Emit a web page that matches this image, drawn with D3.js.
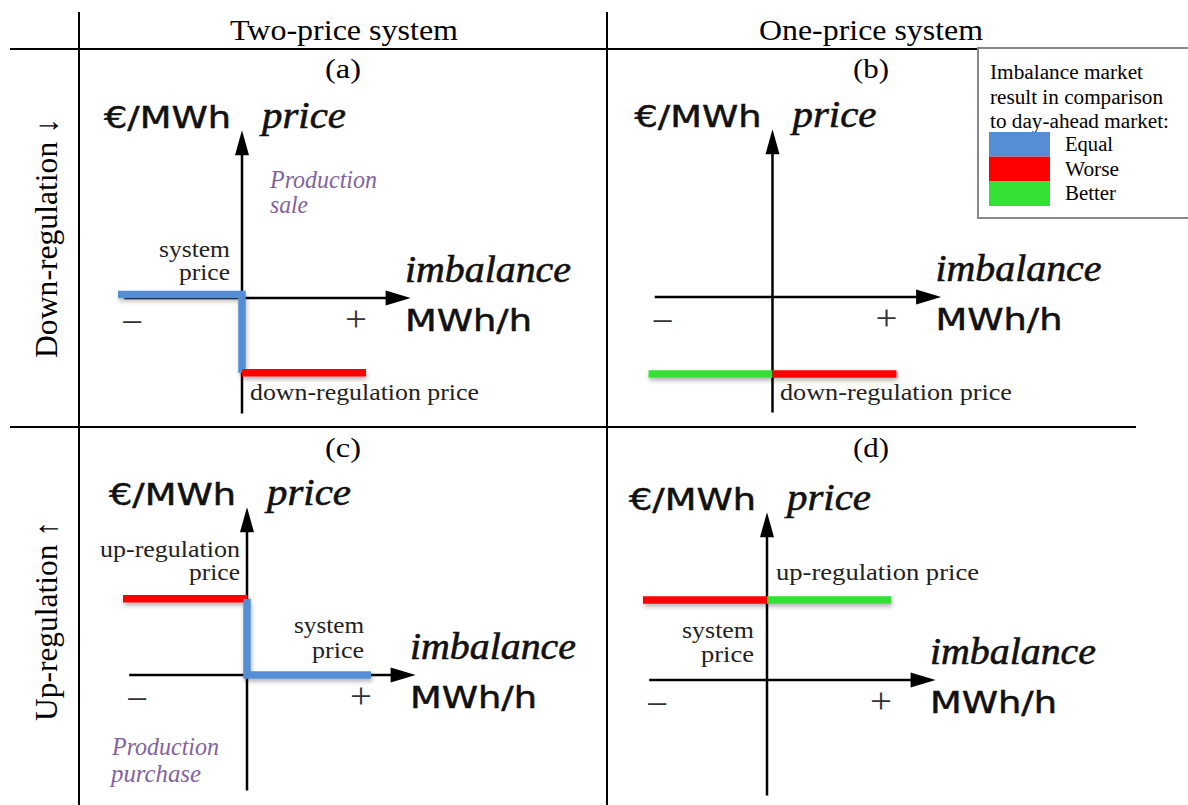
<!DOCTYPE html>
<html>
<head>
<meta charset="utf-8">
<script src="https://cdn.jsdelivr.net/npm/d3@7/dist/d3.min.js"></script>
<style>
  html, body { margin: 0; padding: 0; background: #fff; }
  svg { display: block; }
</style>
</head>
<body>
<svg id="chart" width="1188" height="805"></svg>
<script>
// ---------------- DATA ----------------
const columnTitles = ["Two-price system", "One-price system"];
const rowTitles = ["Down-regulation \u2193", "Up-regulation \u2191"];
const panelIds = ["(a)", "(b)", "(c)", "(d)"];
const categories = ["Equal", "Worse", "Better"];
const legendTitle = ["Imbalance market", "result in comparison", "to day-ahead market:"];
const yAxisLabels = ["\u20AC/MWh", "price"];
const xAxisLabels = ["imbalance", "MWh/h"];
const signLabels = ["\u2212", "+"];
// price curves (imbalance from -1..1, price relative to system price = 0)
const curveA = [
  { cat: "Equal", pts: [[-1, 0.045], [0, 0.045], [0, -0.97]] },
  { cat: "Worse", pts: [[0, -0.97], [1, -0.97]] }
];
const curveB = [
  { cat: "Better", pts: [[-1, -1.0], [0, -1.0]] },
  { cat: "Worse", pts: [[0, -1.0], [1, -1.0]] }
];
const curveC = [
  { cat: "Worse", pts: [[-1, 0.99], [0, 0.99]] },
  { cat: "Equal", pts: [[0, 0.99], [0, 0], [1, 0]] }
];
const curveD = [
  { cat: "Worse", pts: [[-1, 1.04], [0, 1.04]] },
  { cat: "Better", pts: [[0, 1.04], [1, 1.04]] }
];
const curves = [curveA, curveB, curveC, curveD];
const xAxisExtent = [-0.95, 1.36];
const yAxisExtent = [-1.5, 2.18];

// ---------------- STYLE / LAYOUT ----------------
const SERIF = "'Liberation Serif', 'Times New Roman', serif";
const SANS = "'DejaVu Sans', Verdana, sans-serif";
const PURPLE = "#8064A2";
const color = d3.scaleOrdinal().domain(categories).range(["#558ED5", "#FF0000", "#33E133"]);

const svg = d3.select("#chart");
const defs = svg.append("defs");
const f = defs.append("filter").attr("id", "sh").attr("filterUnits", "userSpaceOnUse")
  .attr("x", 0).attr("y", 0).attr("width", 1188).attr("height", 805);
f.append("feDropShadow").attr("dx", 1).attr("dy", 3).attr("stdDeviation", 2).attr("flood-color", "#000").attr("flood-opacity", 0.28);

function txt(g, s, x, y, o) {
  const t = g.append("text").attr("x", x).attr("y", y).text(s)
    .attr("font-family", o.family || SERIF)
    .attr("font-size", o.size)
    .attr("text-anchor", o.anchor || "start")
    .attr("fill", o.fill || "#000");
  if (o.italic) t.attr("font-style", "italic");
  if (o.w) t.attr("textLength", o.w).attr("lengthAdjust", "spacingAndGlyphs");
  if (o.transform) t.attr("transform", o.transform);
  if (o.stroke) t.attr("stroke", o.fill || "#000").attr("stroke-width", o.stroke);
  return t;
}

// grid lines
const grid = svg.append("g").attr("stroke", "#000").attr("stroke-width", 2);
grid.append("line").attr("x1", 10).attr("x2", 1188).attr("y1", 49).attr("y2", 49);
grid.append("line").attr("x1", 10).attr("x2", 1136).attr("y1", 427).attr("y2", 427);
grid.append("line").attr("x1", 79).attr("x2", 79).attr("y1", 12).attr("y2", 805);
grid.append("line").attr("x1", 607).attr("x2", 607).attr("y1", 12).attr("y2", 805);

// column titles
const colCx = [344, 871];
const colW = [228, 224];
columnTitles.forEach((c, i) => txt(svg, c, colCx[i], 40, { size: 30, anchor: "middle", w: colW[i] }));

// row titles (rotated)
const rowCy = [238, 621];
const rowW = [240, 200];
rowTitles.forEach((r, i) => txt(svg, r, 0, 0, { size: 31, anchor: "middle", w: rowW[i],
  transform: `translate(57,${rowCy[i]}) rotate(-90)` }));

// panels layout
const panels = [
  { ox: 242, oy: 298, lx: 343, ly: 78 },
  { ox: 772.5, oy: 297, lx: 871, ly: 78 },
  { ox: 247, oy: 675, lx: 343, ly: 457 },
  { ox: 767, oy: 680, lx: 871, ly: 457 }
];

const annotations = [
  [
    { t: "system", dx: -12, dy: -41, anchor: "end", w: 71 },
    { t: "price", dx: -12, dy: -18, anchor: "end", w: 51 },
    { t: "Production", dx: 28, dy: -110, italic: true, fill: PURPLE, w: 107, size: 25 },
    { t: "sale", dx: 28, dy: -85, italic: true, fill: PURPLE, w: 38, size: 25 },
    { t: "down-regulation price", dx: 8, dy: 102, w: 229 }
  ],
  [
    { t: "down-regulation price", dx: 7.5, dy: 103, w: 232 }
  ],
  [
    { t: "up-regulation", dx: -7, dy: -118, anchor: "end", w: 140 },
    { t: "price", dx: -7, dy: -95, anchor: "end", w: 51 },
    { t: "system", dx: 117, dy: -42, anchor: "end", w: 70 },
    { t: "price", dx: 117, dy: -17, anchor: "end", w: 52 },
    { t: "Production", dx: -135, dy: 80, italic: true, fill: PURPLE, w: 107, size: 25 },
    { t: "purchase", dx: -136, dy: 107, italic: true, fill: PURPLE, w: 90, size: 25 }
  ],
  [
    { t: "up-regulation price", dx: 9, dy: -100, w: 203 },
    { t: "system", dx: -13, dy: -42, anchor: "end", w: 72 },
    { t: "price", dx: -13, dy: -18, anchor: "end", w: 53 }
  ]
];

panels.forEach((p, i) => {
  const g = svg.append("g");
  const x = d3.scaleLinear().domain([-1, 1]).range([p.ox - 124, p.ox + 124]);
  const y = d3.scaleLinear().domain([-1, 1]).range([p.oy + 77, p.oy - 77]);

  // panel id
  txt(g, panelIds[i], p.lx, p.ly, { size: 27, anchor: "middle", w: 36 });

  // axes
  const ax = g.append("g");
  const x0 = x(xAxisExtent[0]), x1 = x(xAxisExtent[1]), yz = y(0);
  ax.append("line").attr("x1", x0).attr("x2", x1 - 20).attr("y1", yz).attr("y2", yz)
    .attr("stroke", "#000").attr("stroke-width", 2.5);
  ax.append("path").attr("d", `M${x1},${yz} L${x1 - 25},${yz - 7.5} L${x1 - 25},${yz + 7.5} Z`).attr("fill", "#000");
  const xz = x(0), yb = y(yAxisExtent[0]), yt = y(yAxisExtent[1]);
  ax.append("line").attr("x1", xz).attr("x2", xz).attr("y1", yb).attr("y2", yt + 20)
    .attr("stroke", "#000").attr("stroke-width", 2.5);
  ax.append("path").attr("d", `M${xz},${yt} L${xz - 7},${yt + 25} L${xz + 7},${yt + 25} Z`).attr("fill", "#000");

  // axis labels
  txt(g, yAxisLabels[0], xz - 11, yz - 170, { family: SANS, size: 31, anchor: "end", w: 127, fill: "#111", stroke: 0.5 });
  txt(g, yAxisLabels[1], xz + 20, yz - 170, { size: 38, italic: true, w: 84, fill: "#111", stroke: 0.6 });
  txt(g, xAxisLabels[0], xz + 163, yz - 16, { size: 37, italic: true, w: 166, fill: "#111", stroke: 0.6 });
  txt(g, xAxisLabels[1], xz + 163, yz + 32.5, { family: SANS, size: 31, w: 127, fill: "#111", stroke: 0.5 });
  txt(g, signLabels[0], xz - 110, yz + 24, { size: 36, anchor: "middle", fill: "#333", w: 22 }).attr("dominant-baseline", "central");
  txt(g, signLabels[1], xz + 114, yz + 21, { size: 36, anchor: "middle", fill: "#333", w: 22 }).attr("dominant-baseline", "central");

  // curves
  const line = d3.line().x(d => x(d[0])).y(d => y(d[1]));
  g.append("g").attr("filter", "url(#sh)")
    .selectAll("path").data(curves[i]).join("path")
    .attr("d", d => line(d.pts))
    .attr("fill", "none")
    .attr("stroke", d => color(d.cat))
    .attr("stroke-width", 7.5)
    .attr("stroke-linejoin", "miter")
    .attr("stroke-linecap", "butt");

  // annotations
  annotations[i].forEach(a => txt(g, a.t, xz + a.dx, yz + a.dy,
    { size: a.size || 23, anchor: a.anchor, w: a.w, italic: a.italic, fill: a.fill || "#222" }));
});

// legend
const lg = svg.append("g");
lg.append("rect").attr("x", 978).attr("y", 48).attr("width", 215).attr("height", 170)
  .attr("fill", "#fff").attr("stroke", "#888").attr("stroke-width", 2);
const titleW = [153, 173, 179];
legendTitle.forEach((l, i) => txt(lg, l, 990, 79 + i * 24.5, { size: 20, w: titleW[i] }));
const band = d3.scaleBand().domain(categories).range([132, 206]);
lg.selectAll("rect.sw").data(categories).join("rect").attr("class", "sw")
  .attr("x", 989).attr("width", 61)
  .attr("y", d => band(d)).attr("height", band.bandwidth())
  .attr("fill", d => color(d));
const catW = [48, 54, 51];
categories.forEach((c, i) => txt(lg, c, 1065, band(c) + band.bandwidth() / 2 + 6.5, { size: 20, w: catW[i] }));
</script>
</body>
</html>
